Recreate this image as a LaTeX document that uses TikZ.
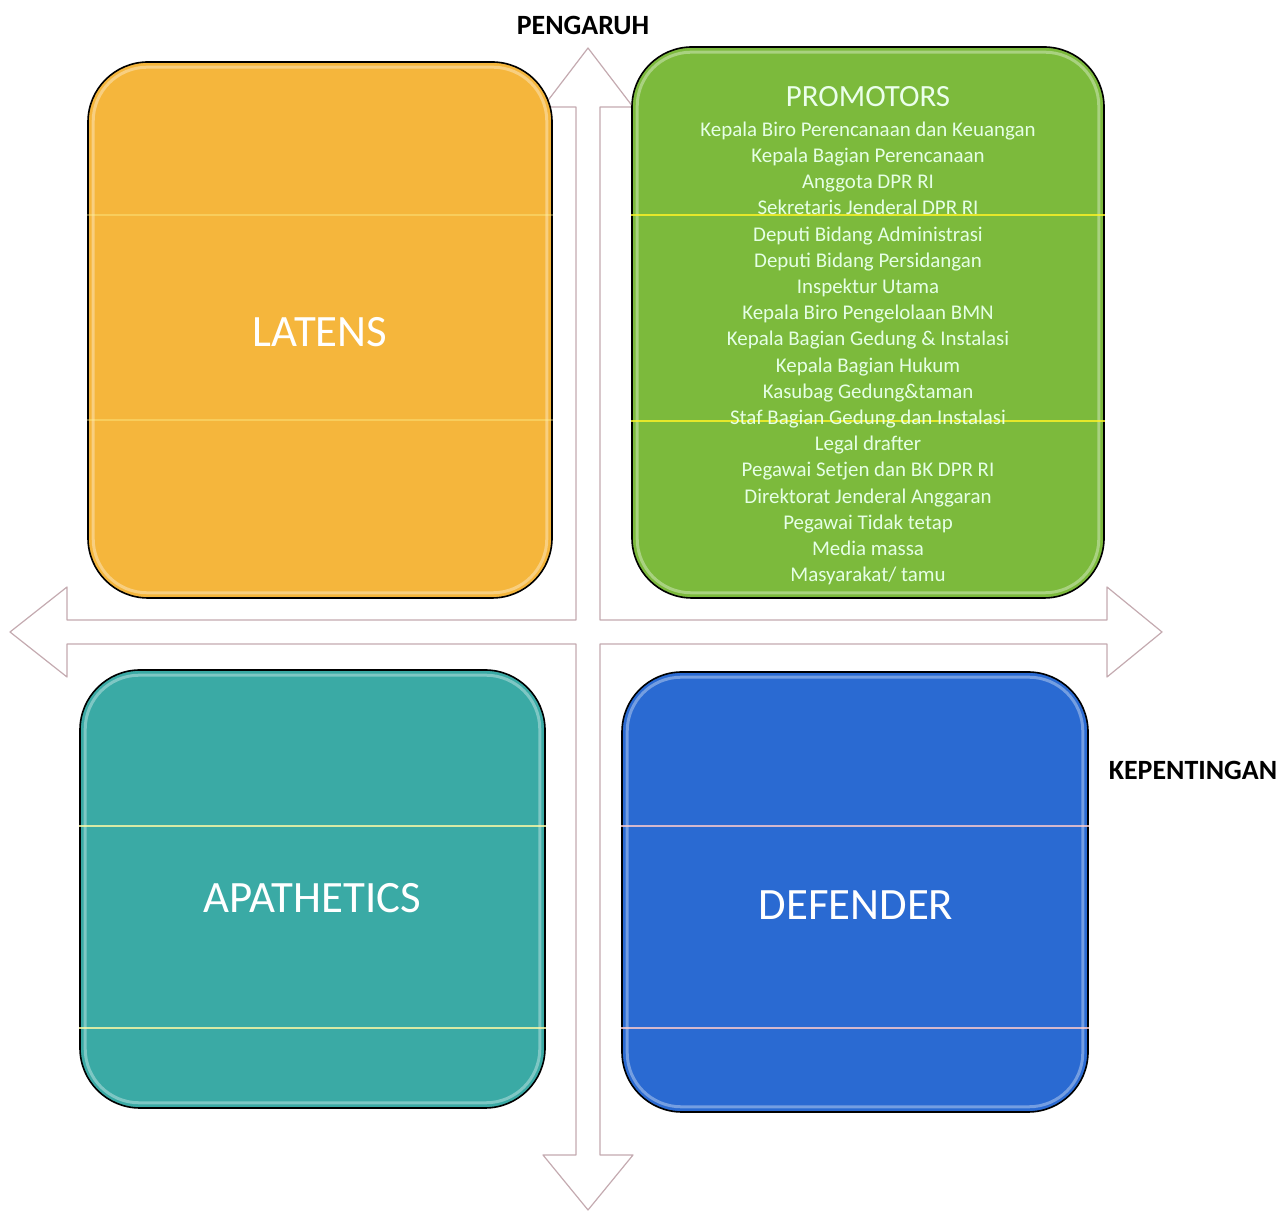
\documentclass[tikz,border=0pt]{standalone}
\usepackage{fontspec}
\setmainfont{Carlito}
\definecolor{latens}{RGB}{245,182,60}
\definecolor{promo}{RGB}{124,186,60}
\definecolor{apath}{RGB}{58,170,165}
\definecolor{defend}{RGB}{42,106,210}
\definecolor{arrowline}{RGB}{196,170,176}
\tikzset{
  quad/.style={draw=black,line width=1.6bp,rounded corners=60bp,inner sep=0pt},
  gloss/.style={draw=white,line width=3bp,opacity=0.35,rounded corners=54bp},
  hline/.style={draw=#1,line width=1.6bp,opacity=0.8},
  bigtitle/.style={text=white,font=\fontsize{45}{50}\selectfont},
  axislabel/.style={text=black,font=\fontsize{28}{32}\selectfont\bfseries},
}
\begin{document}
\begin{tikzpicture}[line join=round]
\useasboundingbox (0bp,0bp) rectangle (1284bp,1213bp);
%%
\draw [arrowline,fill=white,line width=1.2bp] (588bp,1165bp) -- (633bp,1106bp) -- (600bp,1106bp) -- (600bp,593bp)
  -- (1107bp,593bp) -- (1107bp,626bp) -- (1162bp,581bp) -- (1107bp,536bp) -- (1107bp,569bp) -- (600bp,569bp)
  -- (600bp,58bp) -- (633bp,58bp) -- (588bp,3bp) -- (543bp,58bp) -- (576bp,58bp) -- (576bp,569bp)
  -- (67bp,569bp) -- (67bp,536bp) -- (10bp,581bp) -- (67bp,626bp) -- (67bp,593bp) -- (576bp,593bp)
  -- (576bp,1106bp) -- (543bp,1106bp) -- cycle;
%
\node (node_latens) at (320bp,883bp) [quad,fill=latens,minimum width=464bp,minimum height=536bp] {};
  \node (node_promo) at (868bp,890.5bp) [quad,fill=promo,minimum width=472bp,minimum height=551bp] {};
  \node (node_apath) at (312.5bp,324bp) [quad,fill=apath,minimum width=465bp,minimum height=438bp] {};
  \node (node_defend) at (855bp,321bp) [quad,fill=defend,minimum width=466bp,minimum height=440bp] {};
%
\foreach \q in {latens,promo,apath,defend}
  \draw [gloss] ([shift={(6bp,6bp)}]node_\q.south west) rectangle ([shift={(-6bp,-6bp)}]node_\q.north east);
\draw [hline=yellow!40!white,opacity=0.35] (node_latens.west |- 0,998bp) -- (node_latens.east |- 0,998bp);
  \draw [hline=yellow!40!white,opacity=0.35] (node_latens.west |- 0,793bp) -- (node_latens.east |- 0,793bp);
  \draw [hline=yellow!85!white] (node_promo.west |- 0,998bp) -- (node_promo.east |- 0,998bp);
  \draw [hline=yellow!85!white] (node_promo.west |- 0,792bp) -- (node_promo.east |- 0,792bp);
  \draw [hline=yellow!35!white] (node_apath.west |- 0,387bp) -- (node_apath.east |- 0,387bp);
  \draw [hline=yellow!35!white] (node_apath.west |- 0,185bp) -- (node_apath.east |- 0,185bp);
  \draw [hline=pink!80!white] (node_defend.west |- 0,387bp) -- (node_defend.east |- 0,387bp);
  \draw [hline=pink!80!white] (node_defend.west |- 0,185bp) -- (node_defend.east |- 0,185bp);
%
\node (node_latens_text) at (320bp,881bp) [bigtitle] {LATENS};
  \node (node_apath_text) at (312bp,315bp) [bigtitle] {APATHETICS};
  \node (node_defend_text) at (856bp,308bp) [bigtitle] {DEFENDER};
  \node (node_promo_title) at (868bp,1116bp) [text=white!92!green,font=\fontsize{31}{34}\selectfont] {PROMOTORS};
  \node (node_promo_list) at (868bp,859.5bp) [text=white!90!green,align=center,inner sep=0pt,font=\fontsize{21}{26.3}\selectfont]
    {Kepala Biro Perencanaan dan Keuangan\\ Kepala Bagian Perencanaan\\ Anggota DPR RI\\ Sekretaris Jenderal DPR RI\\
     Deputi Bidang Administrasi\\ Deputi Bidang Persidangan\\ Inspektur Utama\\ Kepala Biro Pengelolaan BMN\\
     Kepala Bagian Gedung \& Instalasi\\ Kepala Bagian Hukum\\ Kasubag Gedung\&taman\\ Staf Bagian Gedung dan Instalasi\\
     Legal drafter\\ Pegawai Setjen dan BK DPR RI\\ Direktorat Jenderal Anggaran\\ Pegawai Tidak tetap\\
     Media massa\\ Masyarakat/ tamu};
%
\node (node_pengaruh) at (583bp,1188bp) [axislabel] {PENGARUH};
  \node (node_kepentingan) at (1193bp,443bp) [axislabel] {KEPENTINGAN};
%
\end{tikzpicture}
\end{document}
